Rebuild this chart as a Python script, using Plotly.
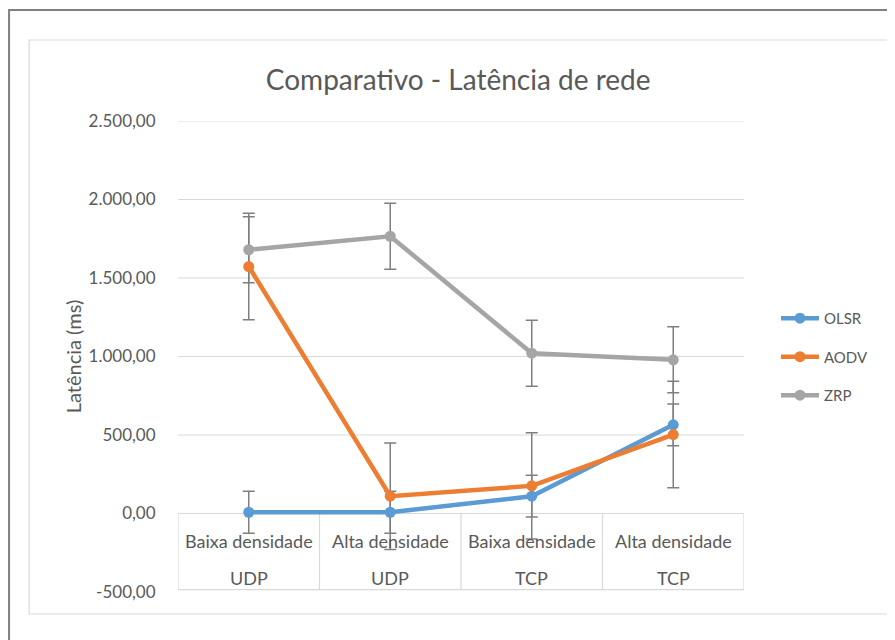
import plotly.graph_objects as go

# ---- data ----
densidade = ["Baixa densidade", "Alta densidade", "Baixa densidade", "Alta densidade"]
protocolo = ["UDP", "UDP", "TCP", "TCP"]
series_names = ["OLSR", "AODV", "ZRP"]
olsr = [8, 8, 110, 565]
aodv = [1573, 110, 176, 503]
zrp = [1680, 1766, 1021, 979]
olsr_err = [133, 133, 133, 133]
aodv_err = [339, 339, 339, 339]
zrp_err = [210, 210, 210, 210]
y_ticks = [-500, 0, 500, 1000, 1500, 2000, 2500]
y_tick_labels = ["-500,00", "0,00", "500,00", "1.000,00", "1.500,00", "2.000,00", "2.500,00"]
title_text = "Comparativo - Latência de rede"
y_title = "Latência (ms)"

colors = ["#5B9BD5", "#ED7D31", "#A5A5A5"]
FONT = "Lato"
TXT = "#595959"
GRID = "#D9D9D9"

x = list(range(len(densidade)))
values = [olsr, aodv, zrp]
errors = [olsr_err, aodv_err, zrp_err]

fig = go.Figure()

# error bars underneath all lines
for name, vals, err in zip(series_names, values, errors):
    fig.add_trace(go.Scatter(
        x=x, y=vals, mode="markers", showlegend=False, hoverinfo="skip",
        marker=dict(size=1, color="rgba(0,0,0,0)"),
        error_y=dict(type="data", array=err, visible=True, color="#7F7F7F",
                     thickness=1.5, width=6),
    ))

for name, vals, c in zip(series_names, values, colors):
    fig.add_trace(go.Scatter(
        x=x, y=vals, name=name, mode="lines+markers",
        line=dict(color=c, width=4.5),
        marker=dict(color=c, size=11),
        legendgroup=name,
    ))

shapes = []
# horizontal gridlines (positive ticks)
for t in y_ticks:
    if t > 0:
        shapes.append(dict(type="line", xref="x", yref="y", x0=-0.5, x1=len(x) - 0.5,
                           y0=t, y1=t, line=dict(color=GRID, width=1), layer="below"))
# category table
tab_bottom = -485
shapes.append(dict(type="rect", xref="x", yref="y", x0=-0.5, x1=len(x) - 0.5,
                   y0=tab_bottom, y1=0, line=dict(color=GRID, width=1.2), layer="below"))
for i in range(1, len(x)):
    shapes.append(dict(type="line", xref="x", yref="y", x0=i - 0.5, x1=i - 0.5,
                       y0=tab_bottom, y1=0, line=dict(color=GRID, width=1.2), layer="below"))
# chart area box and outer frame
shapes.append(dict(type="rect", xref="paper", yref="paper", x0=-0.263, x1=1.263,
                   y0=-0.0467, y1=1.172, line=dict(color="#D9D9D9", width=1.2), layer="below"))
shapes.append(dict(type="rect", xref="paper", yref="paper", x0=-0.2985, x1=1.4,
                   y0=-0.3, y1=1.2357, line=dict(color="#808080", width=2), layer="below"))

annotations = []
for i, (d, p) in enumerate(zip(densidade, protocolo)):
    annotations.append(dict(x=i, y=-172, xref="x", yref="y", text=d, showarrow=False,
                            font=dict(family=FONT, size=18, color=TXT)))
    annotations.append(dict(x=i, y=-408, xref="x", yref="y", text=p, showarrow=False,
                            font=dict(family=FONT, size=18, color=TXT)))
annotations.append(dict(x=-0.186, y=0.5, xref="paper", yref="paper", text=y_title,
                        textangle=-90, showarrow=False, xanchor="center", yanchor="middle",
                        font=dict(family=FONT, size=20, color=TXT)))

fig.update_layout(
    width=895, height=640,
    margin=dict(l=170, r=159, t=113, b=56),
    paper_bgcolor="white", plot_bgcolor="white",
    separators=",.",
    title=dict(text=title_text, x=0.495, xref="paper", y=1 - 72 / 640, yref="container",
               xanchor="center", yanchor="middle",
               font=dict(family=FONT, size=28, color=TXT)),
    xaxis=dict(range=[-0.5, len(x) - 0.5], showticklabels=False, showgrid=False,
               zeroline=False, showline=False, ticks=""),
    yaxis=dict(range=[-500, 2500], tickvals=y_ticks, ticktext=y_tick_labels,
               showgrid=False, zeroline=False, showline=False,
               ticks="outside", ticklen=18, tickcolor="rgba(0,0,0,0)",
               tickfont=dict(family=FONT, size=17, color=TXT)),
    legend=dict(x=1.0565, y=0.499, xanchor="left", yanchor="middle",
                font=dict(family=FONT, size=15, color=TXT),
                traceorder="grouped", tracegroupgap=16, itemwidth=38,
                bgcolor="rgba(0,0,0,0)"),
    shapes=shapes, annotations=annotations,
)

fig.write_html("out.html")
